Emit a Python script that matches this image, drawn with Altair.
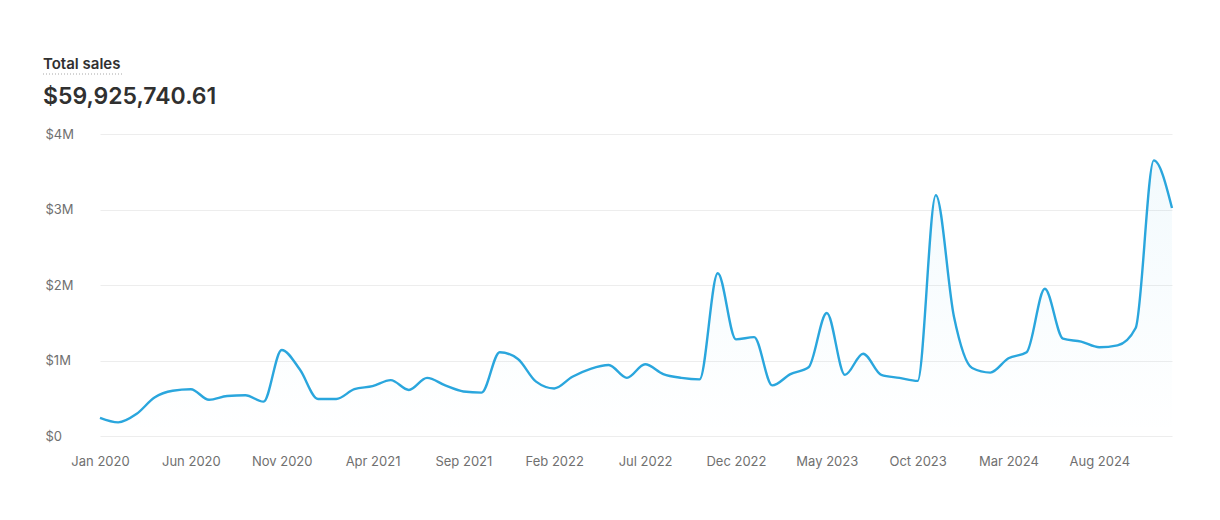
import json
import altair as alt
import pandas as pd

years = [2020, 2021, 2022, 2023, 2024]
month_names = ["Jan", "Feb", "Mar", "Apr", "May", "Jun",
               "Jul", "Aug", "Sep", "Oct", "Nov", "Dec"]
months = [f"{m} {y}" for y in years for m in month_names]

# monthly sales in $M
sales_m = [
    0.24, 0.18, 0.29, 0.51, 0.60, 0.62, 0.48, 0.53, 0.54, 0.455, 1.14, 0.88,   # 2020
    0.49, 0.49, 0.62, 0.66, 0.74, 0.61, 0.77, 0.67, 0.59, 0.575, 1.11, 1.02,   # 2021
    0.72, 0.63, 0.785, 0.89, 0.94, 0.77, 0.95, 0.82, 0.77, 0.75, 2.155, 1.28,  # 2022
    1.31, 0.67, 0.82, 0.91, 1.63, 0.81, 1.09, 0.81, 0.77, 0.73, 3.19, 1.58,    # 2023
    0.90, 0.84, 1.03, 1.11, 1.95, 1.29, 1.25, 1.175, 1.20, 1.43, 3.65, 3.02,   # 2024
]

title_text = "Total sales"
total_text = "$59,925,740.61"
y_ticks = [0, 1e6, 2e6, 3e6, 4e6]
x_ticks = list(range(0, 60, 5))

df = pd.DataFrame({
    "idx": list(range(len(months))),
    "month": months,
    "sales": [v * 1e6 for v in sales_m],
})

LINE = "#2aa6dd"
FONT = "Inter"

x_enc = alt.X(
    "idx:Q",
    scale=alt.Scale(domain=[0, len(months) - 1], nice=False, zero=False),
    axis=alt.Axis(
        values=x_ticks,
        labelExpr=f"{json.dumps(months)}[datum.value]",
        grid=False, ticks=False, domain=False,
        labelPadding=19, labelFontSize=13, labelColor="#707070",
        labelFont=FONT, title=None, labelFlush=False,
    ),
)
y_enc = alt.Y(
    "sales:Q",
    scale=alt.Scale(domain=[0, 4e6], nice=False),
    axis=alt.Axis(
        values=y_ticks,
        labelExpr="datum.value == 0 ? '$0' : '$' + format(datum.value / 1e6, 'd') + 'M'",
        labelAlign="left", labelPadding=55, labelFontSize=13,
        labelColor="#707070", labelFont=FONT,
        ticks=False, domain=False, gridColor="#ededed", gridWidth=1,
        title=None,
    ),
)

area = alt.Chart(df).mark_area(
    interpolate="monotone",
    color=alt.Gradient(
        gradient="linear",
        stops=[alt.GradientStop(color="rgba(42,166,221,0.06)", offset=0),
               alt.GradientStop(color="rgba(42,166,221,0.0)", offset=1)],
        x1=1, x2=1, y1=0, y2=1,
    ),
).encode(x=x_enc, y=y_enc)

line = alt.Chart(df).mark_line(
    interpolate="monotone", color=LINE, strokeWidth=2.4
).encode(x=x_enc, y=y_enc)

tdf = pd.DataFrame({"t": [title_text]})
title = alt.Chart(tdf).mark_text(
    align="left", baseline="alphabetic", font=FONT, fontSize=15,
    fontWeight=600, color="#303030",
).encode(x=alt.value(-57), y=alt.value(-65), text="t:N")

underline = alt.Chart(tdf).mark_rule(
    color="#a8a8a8", strokeDash=[1, 2], strokeWidth=1
).encode(x=alt.value(-57), x2=alt.value(23), y=alt.value(-60))

vdf = pd.DataFrame({"t": [total_text]})
value = alt.Chart(vdf).mark_text(
    align="left", baseline="alphabetic", font=FONT, fontSize=23,
    fontWeight=600, color="#303030",
).encode(x=alt.value(-57), y=alt.value(-30), text="t:N")

chart = alt.layer(area, line, title, underline, value).properties(
    width=1072, height=302,
    padding={"left": 92, "top": 126, "right": 40, "bottom": 70},
    autosize="none",
).configure_view(stroke=None, strokeWidth=0)

chart.save("out.html", embed_options={"renderer": "svg", "actions": False})
